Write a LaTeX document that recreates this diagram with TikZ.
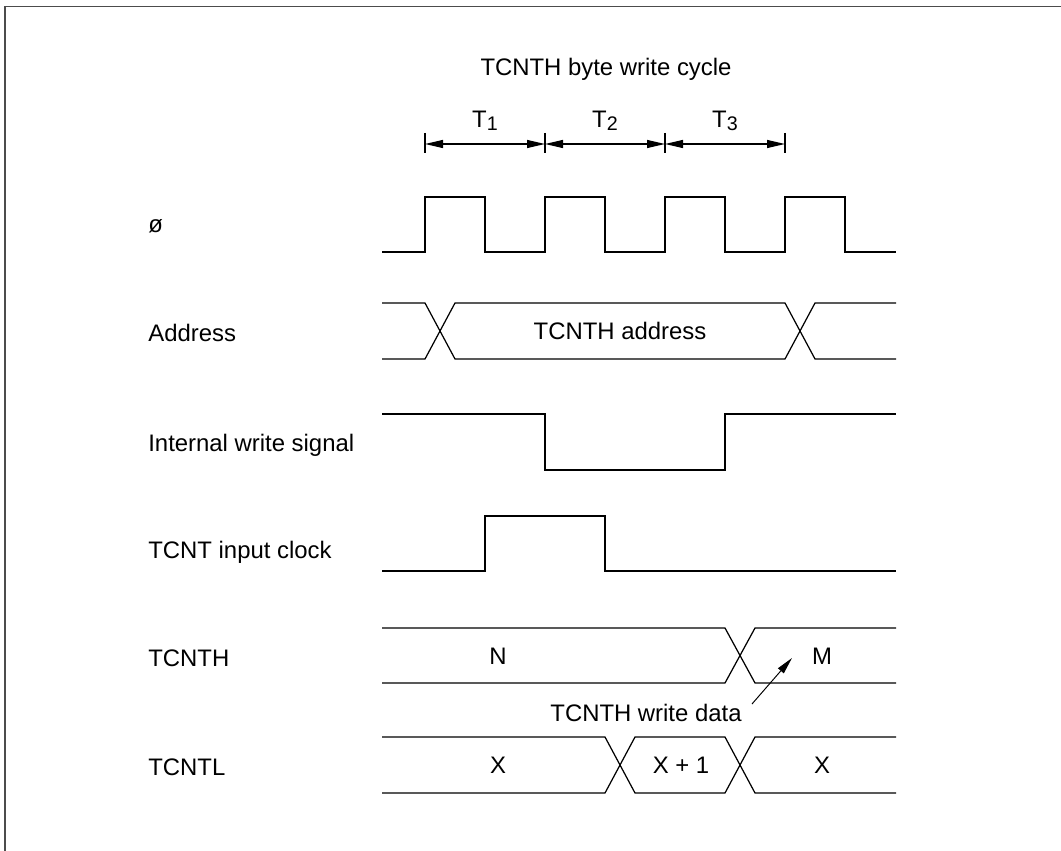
\documentclass[tikz,border=0pt]{standalone}
\usepackage{fontspec}
\setmainfont{Liberation Sans}
\usetikzlibrary{arrows.meta, positioning}
\tikzset{
  sig/.style={line width=0.7pt, black},
  lbl/.style={anchor=base west, inner sep=0pt},
  val/.style={anchor=base, inner sep=0pt},
  dim/.style={{Triangle[length=3.6mm, width=1.6mm]}-{Triangle[length=3.6mm, width=1.6mm]}, line width=0.7pt},
  arr/.style={-{Triangle[length=3.4mm, width=1.5mm]}, line width=0.55pt},
}
\newcommand{\tsub}[1]{T\raisebox{-1.3pt}{\fontsize{11.2}{13}\selectfont #1}}

\begin{document}
\begin{tikzpicture}[x=0.02cm, y=-0.02cm, font=\fontsize{13.6}{16}\selectfont]
  \useasboundingbox (0,0) rectangle (1061,851);
  \draw[line width=0.9pt, black!70] (5,851) -- (5,6.5) -- (1061,6.5);

  % cycle and states
  \node[val] (title) at (606,76) {TCNTH byte write cycle};
  \coordinate (m0) at (425,144);
  \coordinate (m1) at (545,144);
  \coordinate (m2) at (665,144);
  \coordinate (m3) at (785,144);
  \foreach \x in {425,545,665,785}
    \draw[sig] (\x,133) -- (\x,153);
  \draw[dim] (m0) -- (m1);
  \draw[dim] (m1) -- (m2);
  \draw[dim] (m2) -- (m3);
  \node[val] (t1) at (485,128) {\tsub{1}};
  \node[val] (t2) at (605,128) {\tsub{2}};
  \node[val] (t3) at (725,128) {\tsub{3}};

  % signal names
  \node[lbl] (lphi)  at (148,233) {ø};
  \node[lbl] (laddr) at (148,341.7) {Address};
  \node[lbl] (lwr)   at (148,451.7) {Internal write signal};
  \node[lbl] (lclk)  at (148,558.3) {TCNT input clock};
  \node[lbl] (lhi)   at (148,666.7) {TCNTH};
  \node[lbl] (llo)   at (148,775) {TCNTL};

  % system clock
  \draw[sig] (382,252) -- (425,252) -- (425,197) -- (485,197) -- (485,252)
    -- (545,252) -- (545,197) -- (605,197) -- (605,252) -- (665,252)
    -- (665,197) -- (725,197) -- (725,252) -- (785,252) -- (785,197)
    -- (845,197) -- (845,252) -- (896,252);

  % address bus
  \draw[sig] (382,303) -- (425,303) -- (455,359) -- (785,359) -- (815,303) -- (896,303);
  \draw[sig] (382,359) -- (425,359) -- (455,303) -- (785,303) -- (815,359) -- (896,359);
  \node[val] (vaddr) at (620,339.5) {TCNTH address};

  % write strobe
  \draw[sig] (382,414) -- (545,414) -- (545,470) -- (725,470) -- (725,414) -- (896,414);

  % count clock
  \draw[sig] (382,571) -- (485,571) -- (485,516) -- (605,516) -- (605,571) -- (896,571);

  % upper byte
  \draw[sig] (382,628) -- (725,628) -- (755,683) -- (896,683);
  \draw[sig] (382,683) -- (725,683) -- (755,628) -- (896,628);
  \node[val] (vn) at (498,664) {N};
  \node[val] (vm) at (822,664) {M};

  % lower byte
  \draw[sig] (382,737) -- (605,737) -- (635,793) -- (725,793) -- (755,737) -- (896,737);
  \draw[sig] (382,793) -- (605,793) -- (635,737) -- (725,737) -- (755,793) -- (896,793);
  \node[val] (vx)  at (498,773.5) {X};
  \node[val] (vx1) at (681,773.5) {X + 1};
  \node[val] (vx2) at (822,773.5) {X};

  % write data pointer
  \node[val] (wdata) at (646,721.7) {TCNTH write data};
  \coordinate (wtip) at (792,658);
  \draw[arr] ([xshift=0.2cm]wdata.north east) -- (wtip);
\end{tikzpicture}
\end{document}
